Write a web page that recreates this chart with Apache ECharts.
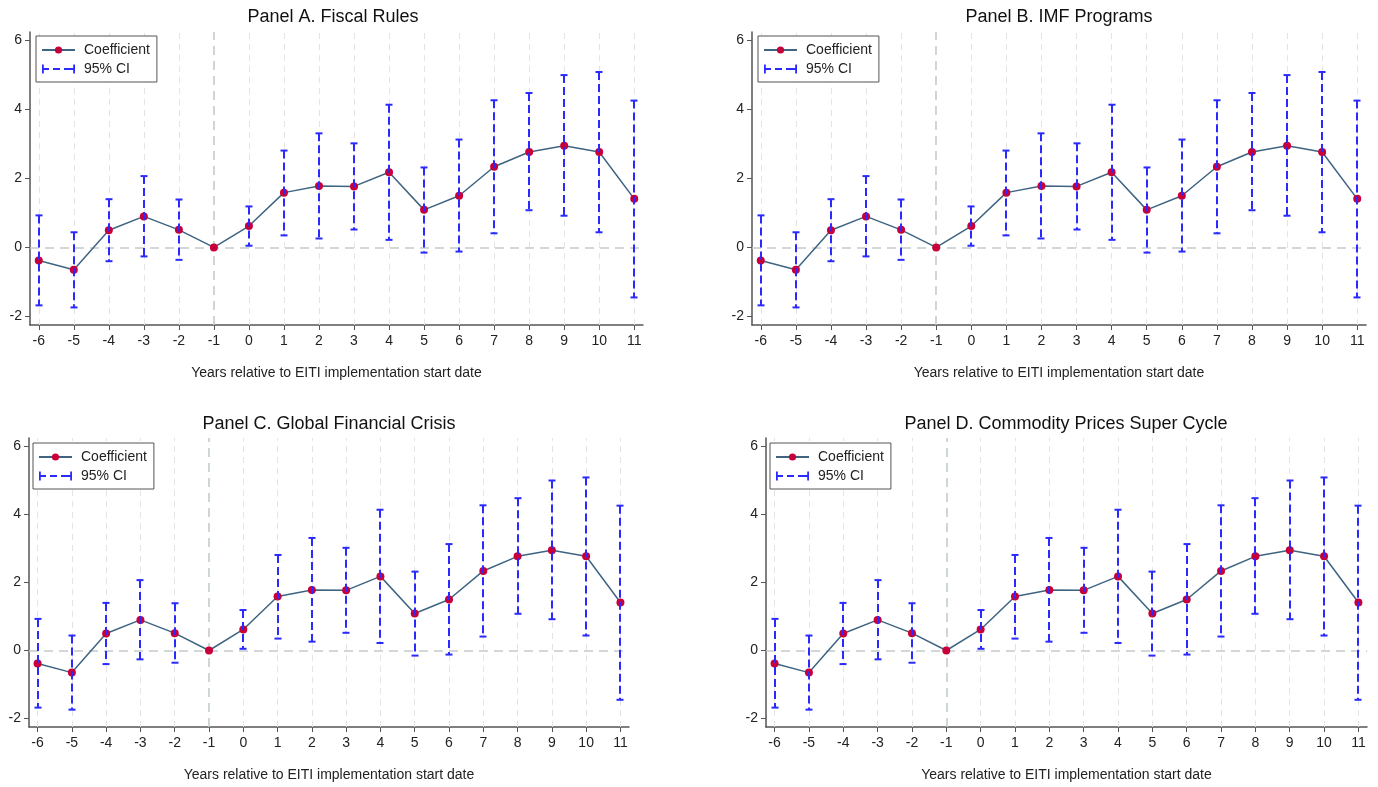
<!DOCTYPE html>
<html>
<head>
<meta charset="utf-8">
<script src="https://cdn.jsdelivr.net/npm/echarts@6/dist/echarts.min.js"></script>
<style>
html,body{margin:0;padding:0;background:#fff;}
#chart{width:1378px;height:787px;}
</style>
</head>
<body>
<div id="chart"></div>
<script>
// ---- data ----
const years = [-6,-5,-4,-3,-2,-1,0,1,2,3,4,5,6,7,8,9,10,11];
const coef  = [-0.38,-0.65,0.50,0.90,0.51,0.00,0.62,1.59,1.78,1.77,2.18,1.09,1.50,2.34,2.77,2.95,2.77,1.41];
const ciLow = [-1.68,-1.74,-0.40,-0.26,-0.36,null,0.05,0.35,0.26,0.52,0.22,-0.15,-0.12,0.41,1.08,0.92,0.44,-1.45];
const ciHigh= [0.93,0.44,1.40,2.07,1.39,null,1.19,2.81,3.31,3.02,4.14,2.32,3.13,4.27,4.48,5.00,5.09,4.26];
const yTicks = [-2,0,2,4,6];
const panelTitles = ["Panel A. Fiscal Rules","Panel B. IMF Programs","Panel C. Global Financial Crisis","Panel D. Commodity Prices Super Cycle"];
const xTitle = "Years relative to EITI implementation start date";
const refYear = -1;

// ---- layout ----
const FONT = "'Liberation Sans', Arial, Helvetica, sans-serif";
const grids = [
  {left:30,  top:32,  width:613, height:293},
  {left:752, top:32,  width:614, height:293},
  {left:29,  top:438, width:600, height:289},
  {left:766, top:438, width:601, height:289}
];
const titlePos = [{x:333,y:8},{x:1059,y:8},{x:329,y:415},{x:1066,y:415}];
const legendPos = [{x:36,y:36},{x:758,y:36},{x:33,y:443},{x:770,y:443}];

const BLUE = '#2a2aff';
const LINEC = '#3e6482';
const DOT = '#c8003a';
const AXC = '#555555';

const ciIcon = 'path://M0,0H1.8V9H0Z M0,3.6H7V5.4H0Z M11,3.6H18V5.4H11Z M22,3.6H29V5.4H22Z M27,3.6H33V5.4H27Z M31.2,0H33V9H31.2Z';

const ciData = years.map((x,i)=> ciLow[i]==null ? null : [x, ciLow[i], ciHigh[i]]).filter(d=>d);
const coefData = years.map((x,i)=>[x, coef[i]]);

const option = {
  animation:false,
  backgroundColor:'#fff',
  textStyle:{fontFamily:FONT},
  title: panelTitles.map((t,i)=>({
    text:t, left:titlePos[i].x, top:titlePos[i].y, textAlign:'center', padding:0,
    textStyle:{fontFamily:FONT, fontSize:18, fontWeight:'normal', color:'#111'}
  })),
  legend: legendPos.map((p,i)=>({
    left:p.x, top:p.y, orient:'vertical', z:20,
    data:[{name:'Coefficient'},{name:'95% CI', icon:ciIcon, itemStyle:{color:BLUE}}],
    itemWidth:33, itemHeight:9, itemGap:5,
    padding:[7,7,6,5],
    borderColor:'#555', borderWidth:1, backgroundColor:'#fff',
    selectedMode:false,
    textStyle:{fontFamily:FONT, fontSize:14, color:'#222', padding:[0,0,0,4]}
  })),
  grid: grids.map(g=>Object.assign({containLabel:false}, g)),
  xAxis: grids.map((g,i)=>({
    type:'value', gridIndex:i, min:-6.25, max:11.25,
    axisLine:{show:true, onZero:false, lineStyle:{color:AXC, width:1.5}},
    axisTick:{show:true, length:5, customValues:years, lineStyle:{color:AXC, width:1}},
    axisLabel:{customValues:years, fontSize:14, color:'#222', margin:9, fontFamily:FONT},
    splitLine:{show:false},
    name:xTitle, nameLocation:'middle', nameGap:41,
    nameTextStyle:{fontSize:14, color:'#222', fontFamily:FONT}
  })),
  yAxis: grids.map((g,i)=>({
    type:'value', gridIndex:i, min:-2.25, max:6.25,
    axisLine:{show:true, onZero:false, lineStyle:{color:AXC, width:1.5}},
    axisTick:{show:true, length:5, customValues:yTicks, lineStyle:{color:AXC, width:1}},
    axisLabel:{customValues:yTicks, fontSize:14, color:'#222', margin:8, fontFamily:FONT},
    splitLine:{show:false}
  })),
  series: []
};

for (let i=0;i<4;i++){
  // reference lines / gridlines
  const gl = years.filter(x=>x!==refYear).map(x=>({xAxis:x}));
  option.series.push({
    type:'line', name:'grid'+i, xAxisIndex:i, yAxisIndex:i, data:[], z:1, silent:true,
    markLine:{
      silent:true, z:1, symbol:['none','none'], label:{show:false}, animation:false,
      lineStyle:{color:'#e4e4e4', width:1, type:[6,5]},
      data: gl.concat([
        {xAxis:refYear, lineStyle:{color:'#c3ccca', width:1.6, type:[9,6]}},
        {yAxis:0, lineStyle:{color:'#c3ccca', width:1.6, type:[9,6]}}
      ])
    }
  });
  option.series.push({
    type:'line', name:'Coefficient', xAxisIndex:i, yAxisIndex:i, data:coefData, z:3,
    symbol:'circle', symbolSize:8, showSymbol:true,
    lineStyle:{color:LINEC, width:1.5},
    itemStyle:{color:DOT},
    color:LINEC
  });
  option.series.push({
    type:'custom', name:'95% CI', xAxisIndex:i, yAxisIndex:i, data:ciData, z:4,
    encode:{x:0, y:[1,2]},
    itemStyle:{color:BLUE},
    renderItem:(params, api)=>{
      const x = api.value(0), lo = api.value(1), hi = api.value(2);
      const pl = api.coord([x, lo]), ph = api.coord([x, hi]);
      const cx = Math.round(pl[0]);
      const cw = 3.5;
      return {type:'group', children:[
        {type:'line', shape:{x1:cx, y1:ph[1], x2:cx, y2:pl[1]}, style:{stroke:BLUE, lineWidth:2, lineDash:[8,4]}},
        {type:'line', shape:{x1:cx-cw, y1:ph[1], x2:cx+cw, y2:ph[1]}, style:{stroke:BLUE, lineWidth:2}},
        {type:'line', shape:{x1:cx-cw, y1:pl[1], x2:cx+cw, y2:pl[1]}, style:{stroke:BLUE, lineWidth:2}}
      ]};
    }
  });
}

const chart = echarts.init(document.getElementById('chart'), null, {renderer:'canvas'});
chart.setOption(option);
</script>
</body>
</html>
